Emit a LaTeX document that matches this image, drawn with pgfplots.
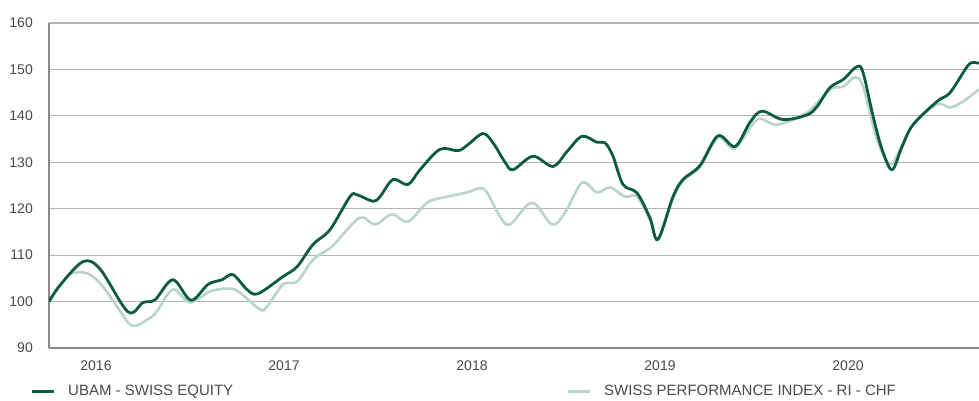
\documentclass[border=0pt]{standalone}
\usepackage{fontspec}
\setmainfont{Liberation Sans}
\usepackage{pgfplots}
\pgfplotsset{compat=1.18}
\definecolor{ubam}{HTML}{0B5B3D}
\definecolor{spi}{HTML}{B9D4C8}
\definecolor{gridc}{HTML}{B4B4B4}
\definecolor{axc}{HTML}{8A8A8A}
\definecolor{txt}{HTML}{4A4A4A}
\begin{document}
\begin{tikzpicture}
\begin{axis}[
  at={(49pt,52pt)}, anchor=south west,
  scale only axis, width=930pt, height=325pt,
  xmin=0, xmax=59.36, ymin=90, ymax=160,
  axis x line*=bottom, axis y line*=left,
  axis line style={draw=axc, line width=1.6pt, -},
  ymajorgrids, grid style={draw=gridc, line width=1.2pt},
  major tick length=0pt,
  ytick={90,100,...,160},
  xtick={3,15,27,39,51},
  xticklabels={2016,2017,2018,2019,2020},
  /pgf/number format/assume math mode=true,
  tick label style={font=\fontsize{14}{14}\selectfont, text=txt, inner sep=0pt},
  yticklabel style={anchor=east, xshift=-16pt},
  xticklabel style={anchor=north, yshift=-13pt},
  legend columns=2,
  legend style={at={(0,0)}, anchor=west, xshift=-19pt, yshift=-43pt,
    draw=none, fill=none, inner sep=0pt, font=\fontsize{15}{15}\selectfont, text=txt,
    nodes={inner sep=0pt},
    /tikz/every odd column/.append style={column sep=13pt},
    /tikz/every even column/.append style={column sep=333pt}},
  legend image code/.code={\draw[#1] (0pt,0pt) -- (22pt,0pt);},
]
\addlegendimage{ubam, line width=3pt}
\addlegendentry{UBAM - SWISS EQUITY}
\addlegendimage{spi, line width=3pt}
\addlegendentry{SWISS PERFORMANCE INDEX - RI - CHF}
\addplot[forget plot, spi, line width=2.6pt, smooth, tension=0.55] coordinates {
(0,100) (1.15,105.4) (1.85,106.3) (2.62,105.8) (3.45,103.2) (4.34,98.9) (5.30,94.8)
(6.26,96.1) (6.89,97.9) (7.91,102.6) (9.00,99.8) (10.28,102.2) (11.55,102.8) (12.19,101.9)
(13.47,98.3) (13.91,98.9) (14.94,103.7) (15.83,104.3) (16.85,109) (17.94,111.5) (18.38,113)
(19.85,118.1) (20.81,116.6) (21.89,118.8) (22.91,117.2) (24.13,121.3) (25.15,122.4)
(26.68,123.5) (27.51,124.4) (27.96,123.5) (28.79,118.3) (29.43,116.6) (30.83,121.3)
(32.11,116.6) (32.94,119.2) (34.02,125.6) (34.98,123.5) (35.81,124.6) (36.77,122.6)
(37.53,122.6) (38.36,117.5) (38.87,113.4) (39.83,122.2) (40.47,126) (41.55,129)
(42.70,135.3) (43.79,133) (45.19,139.2) (46.47,138.1) (48.38,140.7) (49.85,145.7)
(50.68,146.3) (51.45,148.3) (51.96,146.3) (52.85,134.9) (53.68,129.5) (54.32,132.8)
(55.15,138.1) (56.68,142.5) (57.51,141.8) (58.34,143.1) (59.36,145.7)
};
\addplot[forget plot, ubam, line width=2.8pt, smooth, tension=0.55] coordinates {
(0,100) (0.70,103.5) (2.17,108.6) (3.26,107) (5.04,97.8) (6.00,99.8) (6.77,100.4)
(7.91,104.7) (9.06,100.3) (10.15,103.7) (11.04,104.7) (11.74,105.8) (12.64,102.6)
(13.34,101.7) (14.94,105.4) (15.83,107.5) (16.85,112.3) (17.94,115.5) (19.21,122.6)
(19.66,123) (20.68,121.6) (21.13,122.6) (21.96,126.3) (22.91,125.2) (23.68,128.4)
(24.96,132.8) (26.11,132.5) (26.74,133.8) (27.70,136.2) (28.34,134.2) (29.11,130)
(29.62,128.4) (30.89,131.3) (32.17,129.1) (33.06,132.3) (34.02,135.6) (34.98,134.3)
(35.49,134.2) (36.00,131.3) (36.64,125.2) (37.53,123.4) (38.36,118) (38.87,113.4)
(39.83,122.6) (40.47,126.3) (41.55,129.3) (42.70,135.7) (43.79,133.4) (44.74,138.6)
(45.51,141) (46.85,139.2) (48.38,140.2) (49.02,142) (49.85,146.1) (50.68,147.8)
(51.57,150.6) (51.96,149.3) (52.60,139.9) (53.17,132.8) (53.81,128.4) (54.45,133.4)
(55.15,138.1) (56.68,143.1) (57.51,145) (58.60,150.6) (58.98,151.5) (59.36,151.3)
};
\end{axis}
\pgfresetboundingbox
\path (0,0) rectangle (979pt,400pt);
\end{tikzpicture}
\end{document}
